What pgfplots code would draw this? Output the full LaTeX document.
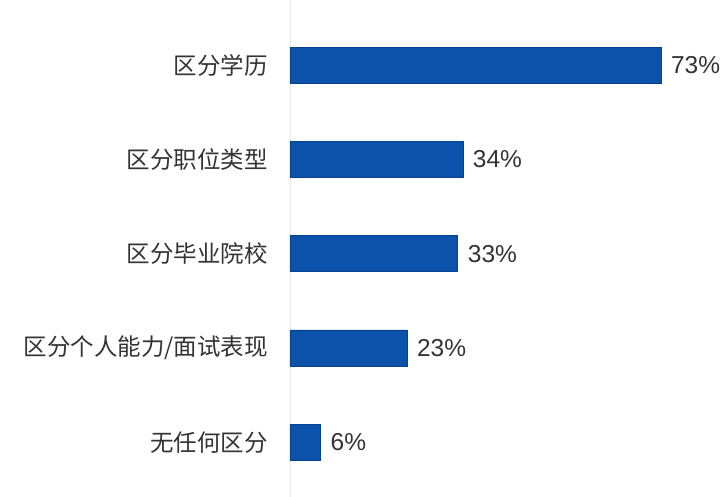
\documentclass[border=0pt]{standalone}
\usepackage{fontspec}
\usepackage{pgfplots}
\pgfplotsset{compat=1.18}
\setmainfont{Liberation Sans}
\newfontfamily\cjk{Noto Sans CJK SC}
\definecolor{barblue}{RGB}{12,82,170}
\definecolor{baredge}{RGB}{8,66,140}
\begin{document}
\begin{tikzpicture}
\begin{axis}[
  xbar,
  scale only axis,
  width=438pt, height=497pt,
  xmin=0, xmax=86.2,
  ymin=-0.69, ymax=4.58,
  y dir=reverse,
  hide x axis,
  axis y line=left,
  axis line style={-, draw=black!8},
  ytick={0,1,2,3,4},
  yticklabels={区分学历,区分职位类型,区分毕业院校,区分个人能力/面试表现,无任何区分},
  yticklabel style={font=\cjk\fontsize{23.5}{23.5}\selectfont, text=black!80, inner sep=0pt, xshift=-22pt},
  major tick length=0pt,
  bar width=36pt,
  point meta=x,
  /pgf/number format/assume math mode=true,
  nodes near coords={\pgfmathprintnumber{\pgfplotspointmeta}\%},
  nodes near coords style={font=\fontsize{24.5}{24.5}\selectfont, text=black!80, anchor=west, inner sep=0pt, xshift=10pt},
]
\addplot[fill=barblue, draw=baredge] coordinates {(73,0) (34,1) (33,2) (23,3) (6,4)};
\end{axis}
\pgfresetboundingbox
\path ([xshift=-290pt]current axis.south west) rectangle (current axis.north east);
\end{tikzpicture}
\end{document}
